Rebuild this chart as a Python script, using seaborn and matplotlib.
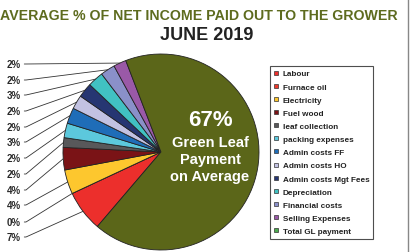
import matplotlib
matplotlib.use("Agg")
import matplotlib.pyplot as plt
import seaborn as sns
import numpy as np
from matplotlib.lines import Line2D

sns.set_style("white")
plt.rcParams["font.family"] = ["Liberation Sans", "DejaVu Sans"]

categories = ["Labour", "Furnace oil", "Electricity", "Fuel wood", "leaf collection",
              "packing expenses", "Admin costs FF", "Admin costs HO", "Admin costs Mgt Fees",
              "Depreciation", "Financial costs", "Selling Expenses", "Total GL payment"]
values = [6.8, 0.0, 4.0, 3.7, 1.6, 2.4, 2.6, 2.3, 2.4, 2.6, 2.4, 2.1, 67.1]
pct_labels = ["7%", "0%", "4%", "4%", "2%", "2%", "3%", "2%", "2%", "3%", "2%", "2%"]
pie_colors = ["#ec2f2c", "#ec3a2c", "#fdc72e", "#7a1316", "#58585a", "#5cc8dc",
              "#1f6db8", "#c2c2e2", "#263672", "#41c1c2", "#8a90c9", "#9a59a7", "#5b6619"]
legend_colors = pie_colors[:-1] + ["#4cab4f"]

W, H = 412, 253
fig = plt.figure(figsize=(W / 100, H / 100), dpi=100)
fig.patch.set_facecolor("white")

# pie axes: centre (161,153) px, radius 98 px
cx, cy, r = 161, 153, 98
ax = fig.add_axes([(cx - r) / W, (H - cy - r) / H, 2 * r / W, 2 * r / H])
wedges, _ = ax.pie(values, colors=pie_colors, startangle=229.5, counterclock=False,
                   wedgeprops=dict(edgecolor="#222222", linewidth=0.6))
ax.set_xlim(-1, 1)
ax.set_ylim(-1, 1)
ax.set_aspect("equal")
ax.axis("off")

# leader labels (left column)
label_y = [238, 223, 206, 191, 175, 159, 143, 128, 112, 96, 81, 65]
for i, (w, lab) in enumerate(zip(wedges[:-1], pct_labels)):
    ang = np.deg2rad((w.theta1 + w.theta2) / 2)
    px, py = np.cos(ang), np.sin(ang)
    ax.annotate(lab, xy=(px, py), xycoords="data",
                xytext=(21, H - label_y[i]), textcoords="figure pixels",
                ha="right", va="center", fontsize=7, fontweight="bold", color="#2a2a2a",
                arrowprops=dict(arrowstyle="-", color="#333333", lw=0.6,
                                relpos=(1, 0.5), shrinkA=0, shrinkB=0,
                                connectionstyle="arc,angleA=0,armA=5,angleB=0,armB=0,rad=0"),
                annotation_clip=False)

# centre text
fig.text(210 / W, 1 - 121 / H, "67%", ha="center", va="center", color="white",
         fontsize=16, fontweight="bold")
fig.text(210 / W, 1 - 160 / H, "Green Leaf\nPayment\non Average", ha="center", va="center",
         color="white", fontsize=10.5, fontweight="bold", linespacing=1.25)

# titles
fig.text(199 / W, 1 - 16 / H, "AVERAGE % OF NET INCOME PAID OUT TO THE GROWER",
         ha="center", va="center", color="#5d6b1e", fontsize=10.2, fontweight="bold")
fig.text(207 / W, 1 - 35 / H, "JUNE 2019", ha="center", va="center", color="#222222",
         fontsize=13, fontweight="bold")

# legend
handles = [Line2D([0], [0], marker="s", linestyle="none", markersize=3.5,
                  markerfacecolor=c, markeredgecolor="#333333", markeredgewidth=0.5)
           for c in legend_colors]
leg = fig.legend(handles, categories, loc="upper left", bbox_to_anchor=(270 / W, 1 - 67 / H),
                 bbox_transform=fig.transFigure, borderaxespad=0, frameon=True, fancybox=False,
                 edgecolor="#222222", fontsize=5.9, labelspacing=0.66, handlelength=0.6,
                 handletextpad=0.5, borderpad=0.45)
leg.get_frame().set_linewidth(0.8)
for t in leg.get_texts():
    t.set_fontweight("bold")
    t.set_color("#222222")

# right frame border
fig.add_artist(Line2D([407.5 / W, 407.5 / W], [0, 1], color="#888888", lw=1.0,
                      transform=fig.transFigure))

fig.savefig("out.png", dpi=100, facecolor="white")
